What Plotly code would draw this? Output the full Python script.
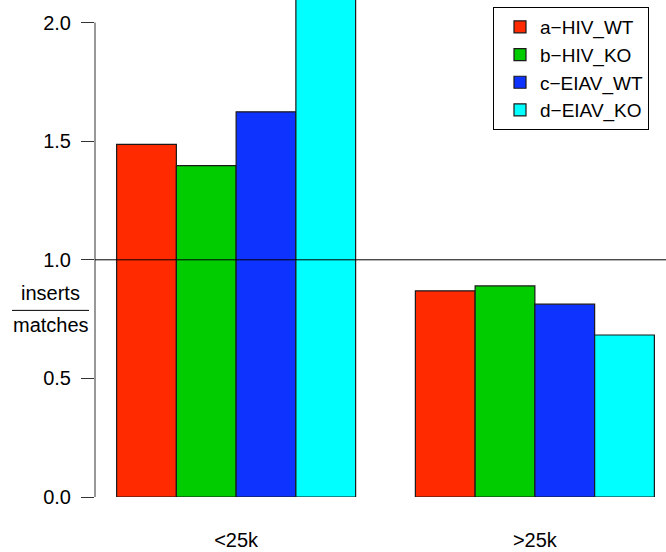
import plotly.graph_objects as go

categories = ["<25k", ">25k"]
series_names = ["a\u2212HIV_WT", "b\u2212HIV_KO", "c\u2212EIAV_WT", "d\u2212EIAV_KO"]
series_values = [
    [1.487, 0.869],
    [1.397, 0.890],
    [1.624, 0.813],
    [2.300, 0.683],
]
colors = ["#FF2A00", "#00CC00", "#0F33FF", "#00FFFF"]
y_ticks = [0.0, 0.5, 1.0, 1.5, 2.0]
y_tick_labels = ["0.0", "0.5", "1.0", "1.5", "2.0"]
ref_line = 1.0

W, H = 666, 552
L, R, T, B = 95, 0, 0, 54.5
pw = W - L - R
ph = H - T - B
ymax = 2.0 + 22.5 / 237.5 * 1.0 + 0.0005


def px_x(p):
    return (p - L) / pw


def px_y(p):
    return (H - B - p) / ph


font = "Liberation Sans, Arial, Helvetica, sans-serif"
FS = 20

fig = go.Figure()
for name, vals, col in zip(series_names, series_values, colors):
    fig.add_trace(go.Bar(
        x=categories, y=vals, name=name, legendgroup=name,
        marker=dict(color=col, line=dict(color="#1a1a1a", width=1.2)),
    ))

fig.update_layout(
    width=W, height=H,
    margin=dict(l=L, r=R, t=T, b=B, pad=0),
    paper_bgcolor="white", plot_bgcolor="white",
    barmode="group", bargap=0.2, bargroupgap=0,
    font=dict(family=font, size=FS, color="black"),
    showlegend=True,
    legend=dict(
        x=px_x(493), y=px_y(7), xanchor="left", yanchor="top",
        bordercolor="black", borderwidth=1, bgcolor="white",
        font=dict(size=FS - 1), tracegroupgap=0, traceorder="normal",
        indentation=6, entrywidth=127,
    ),
    xaxis=dict(
        range=[-0.4724, 1.4389], showgrid=False, zeroline=False, showline=False,
        ticks="", ticklabelstandoff=29, tickfont=dict(size=FS),
    ),
    yaxis=dict(
        range=[0, ymax], showgrid=False, zeroline=False, showline=False,
        tickvals=y_ticks, ticktext=y_tick_labels, ticks="outside", ticklen=13,
        tickcolor="#333333", tickwidth=1, ticklabelstandoff=6,
        tickfont=dict(size=FS),
    ),
)

# y axis line spanning 0..2 (R style)
fig.add_shape(type="line", xref="paper", yref="y", x0=0, x1=0,
              y0=y_ticks[0], y1=y_ticks[-1], line=dict(color="#333333", width=1))
# reference line
fig.add_shape(type="line", xref="paper", yref="y", x0=0, x1=1,
              y0=ref_line, y1=ref_line, line=dict(color="black", width=1), layer="above")

# fraction y label
fig.add_annotation(text="inserts", xref="paper", yref="paper", x=px_x(50.5), y=px_y(293),
                   showarrow=False, xanchor="center", yanchor="middle", font=dict(size=FS))
fig.add_annotation(text="matches", xref="paper", yref="paper", x=px_x(50.5), y=px_y(325),
                   showarrow=False, xanchor="center", yanchor="middle", font=dict(size=FS))
fig.add_shape(type="line", xref="paper", yref="paper", x0=px_x(12), x1=px_x(89),
              y0=px_y(310.7), y1=px_y(310.7), line=dict(color="black", width=1))

fig.write_html("out.html")
